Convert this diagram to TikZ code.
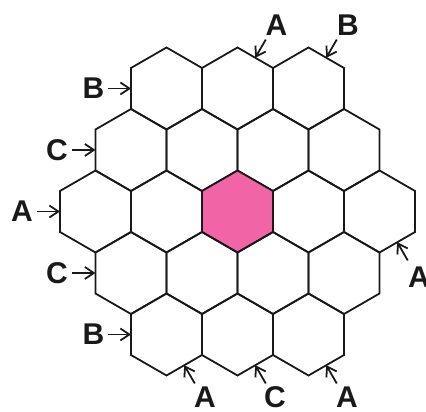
\documentclass[tikz,border=0pt]{standalone}
\usepackage{fontspec}
\setmainfont{Liberation Sans}
\usetikzlibrary{shapes.geometric,arrows.meta,calc}
\definecolor{hexpink}{RGB}{241,100,165}
\begin{document}
\begin{tikzpicture}[x=1pt,y=1pt,
  hexcell/.style={regular polygon,regular polygon sides=6,shape border rotate=30,
    minimum size=82pt,inner sep=0pt,outer sep=0pt,draw=black!90,line width=1.8pt},
  lbl/.style={inner sep=0pt,font=\fontsize{30}{30}\selectfont\bfseries,text=black!90},
  arr/.style={-{Straight Barb[length=9pt,width=12pt]},line width=1.8pt,draw=black!90}]
\useasboundingbox (0,0) rectangle (426,412);
% row 1
\foreach \k in {1,2,3} \node[hexcell] (h1\k) at ({166.5+71*(\k-1)},323.5) {};
% row 2
\foreach \k in {1,2,3,4} \node[hexcell] (h2\k) at ({131+71*(\k-1)},262) {};
% row 3
\foreach \k in {1,2,4,5} \node[hexcell] (h3\k) at ({95.5+71*(\k-1)},200.5) {};
\node[hexcell,fill=hexpink] (h33) at (237.5,200.5) {};
% row 4
\foreach \k in {1,2,3,4} \node[hexcell] (h4\k) at ({131+71*(\k-1)},139) {};
% row 5
\foreach \k in {1,2,3} \node[hexcell] (h5\k) at ({166.5+71*(\k-1)},77.5) {};
% labels
\node[lbl] (lB1) at (93.5,324) {B};
\node[lbl] (lC2) at (57,262) {C};
\node[lbl] (lA3) at (22,200.5) {A};
\node[lbl] (lC4) at (57,139) {C};
\node[lbl] (lB5) at (93.5,78) {B};
\node[lbl] (lAb1) at (205,15) {A};
\node[lbl] (lCb) at (275,15) {C};
\node[lbl] (lAb2) at (347,15) {A};
\node[lbl] (lAr) at (419,134.5) {A};
\node[lbl] (lAt) at (276.5,387) {A};
\node[lbl] (lBt) at (348,387) {B};
% arrows
\foreach \h in {h11,h21,h31,h41,h51}
  \draw[arr] ($(\h.180)+(-23,0)$) -- (\h.180);
\foreach \h in {h51,h52,h53,h35}
  \draw[arr] ($(\h.-60)+(-60:21)$) -- (\h.-60);
\foreach \h in {h12,h13}
  \draw[arr] ($(\h.60)+(60:21)$) -- (\h.60);
\end{tikzpicture}
\end{document}
